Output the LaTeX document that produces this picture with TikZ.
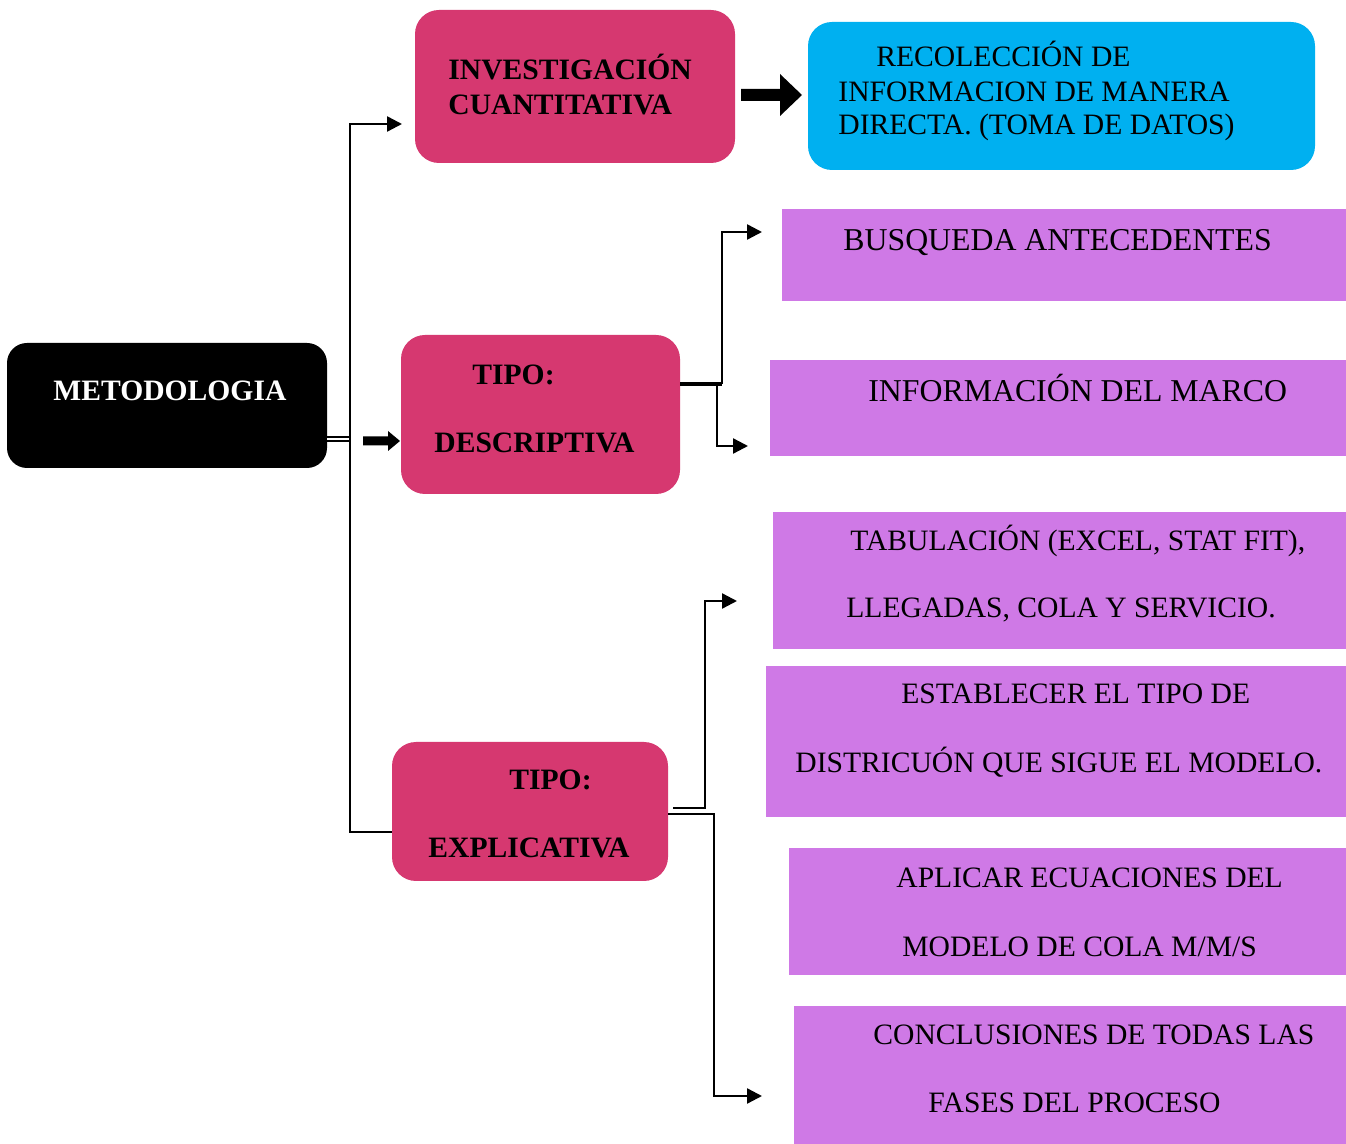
\documentclass[tikz,border=0pt]{standalone}
\usepackage{fontspec}
\setmainfont{Liberation Serif}
\usetikzlibrary{arrows.meta,calc}
\definecolor{pinkc}{RGB}{214,56,112}
\definecolor{bluec}{RGB}{0,176,240}
\definecolor{purplec}{RGB}{207,121,230}
\tikzset{
  pinkbox/.style={rectangle, rounded corners=12pt, fill=pinkc, draw=none, inner sep=0pt},
  bluebox/.style={rectangle, rounded corners=12pt, fill=bluec, draw=none, inner sep=0pt},
  blackbox/.style={rectangle, rounded corners=10pt, fill=black, draw=none, inner sep=0pt},
  purplebox/.style={rectangle, fill=purplec, draw=none, inner sep=0pt},
  regtxt/.style={anchor=base west, inner sep=0pt, font=\fontsize{14.8}{18}\selectfont},
  bigtxt/.style={anchor=base west, inner sep=0pt, font=\fontsize{15.9}{19}\selectfont},
  boldtxt/.style={anchor=base west, inner sep=0pt, font=\fontsize{14.8}{17}\selectfont\bfseries},
  conn/.style={draw=black, line width=1.2pt},
  arr/.style={conn, -{Triangle[length=7.5pt,width=7.5pt]}},
  dbl/.style={draw=black, double=white, double distance=1.2pt, line width=0.7pt}
}
\begin{document}
\begin{tikzpicture}[x=0.5pt,y=-0.5pt]
\useasboundingbox[fill=white] (0,0) rectangle (1346,1144);

% boxes
\node[blackbox, minimum width=160pt, minimum height=62.5pt] (met) at (167,405.5) {};
\node[pinkbox, minimum width=160pt, minimum height=76.5pt] (inv) at (575,86.5) {};
\node[bluebox, minimum width=253.5pt, minimum height=74pt] (rec) at (1061.5,96) {};
\node[pinkbox, minimum width=139.5pt, minimum height=79.5pt] (desc) at (540.5,414.5) {};
\node[pinkbox, minimum width=138pt, minimum height=69.5pt] (expl) at (530,811.5) {};
\node[purplebox, minimum width=282pt, minimum height=46pt] (p1) at (1064,255) {};
\node[purplebox, minimum width=288pt, minimum height=48pt] (p2) at (1058,408) {};
\node[purplebox, minimum width=286.5pt, minimum height=68.5pt] (p3) at (1059.5,580.5) {};
\node[purplebox, minimum width=290pt, minimum height=75.5pt] (p4) at (1056,741.5) {};
\node[purplebox, minimum width=278.5pt, minimum height=63.5pt] (p5) at (1067.5,911.5) {};
\node[purplebox, minimum width=276pt, minimum height=69pt] (p6) at (1070,1075) {};

% texts
\node[boldtxt, text=white] (tmet) at (53,401) {METODOLOGIA};
\node[boldtxt] (tinv1) at (448,80) {INVESTIGACIÓN};
\node[boldtxt] (tinv2) at (448,115) {CUANTITATIVA};
\node[regtxt] (trec1) at (876,67) {RECOLECCIÓN DE};
\node[regtxt] (trec2) at (838,102) {INFORMACION DE MANERA};
\node[regtxt] (trec3) at (838,135) {DIRECTA. (TOMA DE DATOS)};
\node[boldtxt] (tdesc1) at (472,385) {TIPO:};
\node[boldtxt] (tdesc2) at (434,453) {DESCRIPTIVA};
\node[boldtxt] (texpl1) at (509,790) {TIPO:};
\node[boldtxt] (texpl2) at (428,857) {EXPLICATIVA};
\node[bigtxt] (tp1) at (843,251) {BUSQUEDA ANTECEDENTES};
\node[bigtxt] (tp2) at (868,402) {INFORMACIÓN DEL MARCO};
\node[regtxt] (tp3a) at (850,551) {TABULACIÓN (EXCEL, STAT FIT),};
\node[regtxt] (tp3b) at (846,618) {LLEGADAS, COLA Y SERVICIO.};
\node[regtxt] (tp4a) at (901,704) {ESTABLECER EL TIPO DE};
\node[regtxt] (tp4b) at (795,773) {DISTRICUÓN QUE SIGUE EL MODELO.};
\node[regtxt] (tp5a) at (896,887) {APLICAR ECUACIONES DEL};
\node[regtxt] (tp5b) at (902,957) {MODELO DE COLA M/M/S};
\node[regtxt] (tp6a) at (873,1044) {CONCLUSIONES DE TODAS LAS};
\node[regtxt] (tp6b) at (928,1112) {FASES DEL PROCESO};

% coordinates
\coordinate (trunkTop) at (350,124);
\coordinate (trunkMid) at (350,439);
\coordinate (trunkBot) at (350,832);
\coordinate (invIn) at (402,124);
\coordinate (dJ) at (722,384);
\coordinate (dJ2) at (717,384);
\coordinate (p1In) at (762,232);
\coordinate (p2In) at (748,446);
\coordinate (eJ) at (705,808);
\coordinate (eJ2) at (714,814);
\coordinate (p3In) at (737,601);
\coordinate (p6In) at (762,1096);

% connectors
\draw[dbl] (met.east |- trunkMid) -- (trunkMid);
\draw[arr] (expl.west |- trunkBot) -- (trunkBot) -- (trunkTop) -- (invIn);
\draw[draw=black, line width=1.6pt] (desc.east |- dJ) -- (dJ);
\draw[arr] (dJ) -- (dJ |- p1In) -- (p1In);
\draw[arr] (dJ2) -- (dJ2 |- p2In) -- (p2In);
\draw[arr] (673,808) -- (eJ) -- (eJ |- p3In) -- (p3In);
\draw[arr] (expl.east |- eJ2) -- (eJ2) -- (eJ2 |- p6In) -- (p6In);

% block arrows
\fill[black] (363,436.5) -- (388,436.5) -- (388,431) -- (400,441) -- (388,451) -- (388,445.5) -- (363,445.5) -- cycle;
\fill[black] (741,89) -- (780,89) -- (780,74) -- (802,95) -- (780,116) -- (780,101) -- (741,101) -- cycle;
\end{tikzpicture}
\end{document}
